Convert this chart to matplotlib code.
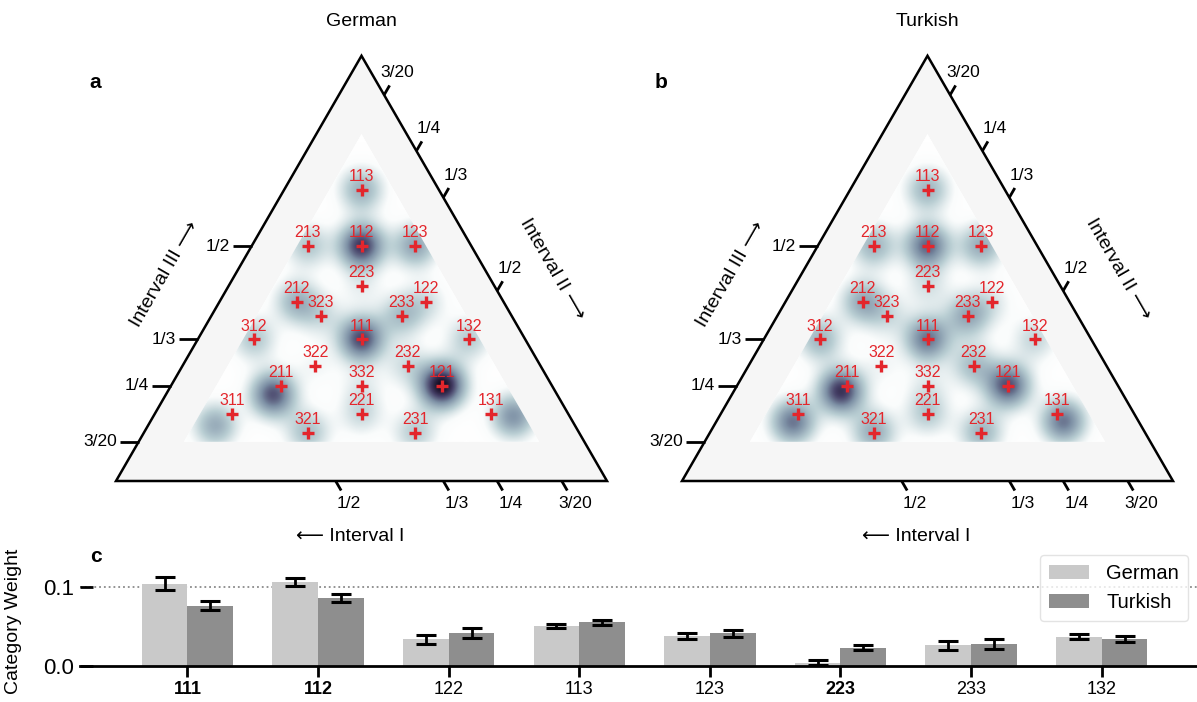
import numpy as np
import matplotlib.pyplot as plt
from matplotlib.colors import LinearSegmentedColormap
from matplotlib.patches import Polygon

plt.rcParams['font.family'] = ['Liberation Sans', 'DejaVu Sans']

# --- data ---
categories = ['113', '213', '112', '123', '223', '212', '323', '233', '122', '312', '111',
              '132', '322', '232', '211', '332', '121', '311', '221', '321', '231', '131']

# density peak strength per category (0..1, read from the shading)
density_de = [0.40, 0.30, 0.80, 0.45, 0.12, 0.38, 0.18, 0.32, 0.18, 0.30, 0.75,
              0.28, 0.10, 0.20, 0.72, 0.12, 0.98, 0.42, 0.22, 0.33, 0.28, 0.52]
density_tr = [0.38, 0.38, 0.66, 0.42, 0.18, 0.42, 0.18, 0.42, 0.14, 0.38, 0.62,
              0.24, 0.10, 0.33, 0.82, 0.12, 0.72, 0.62, 0.28, 0.42, 0.38, 0.62]

# where a density peak sits off its integer ratio (shift in interval proportions)
peak_shift_de = {'211': (0.020, -0.004, -0.016), '311': (0.037, -0.016, -0.021),
                 '131': (-0.033, 0.038, -0.005)}
peak_shift_tr = {'211': (0.014, -0.004, -0.010), '311': (0.016, -0.001, -0.015),
                 '131': (-0.004, 0.018, -0.014)}

tick_values = [3 / 20, 1 / 4, 1 / 3, 1 / 2]
tick_labels = ['3/20', '1/4', '1/3', '1/2']

bar_categories = ['111', '112', '122', '113', '123', '223', '233', '132']
bold_categories = ['111', '112', '223']
weight_de = [0.104, 0.106, 0.034, 0.050, 0.038, 0.004, 0.026, 0.037]
err_de = [0.0080, 0.0047, 0.0057, 0.0025, 0.0042, 0.0030, 0.0057, 0.0030]
weight_tr = [0.076, 0.086, 0.041, 0.055, 0.041, 0.023, 0.028, 0.034]
err_tr = [0.0057, 0.0047, 0.0063, 0.0030, 0.0038, 0.0034, 0.0063, 0.0036]

# --- ternary geometry ---
M = 0.08          # smallest proportion shown at a corner
INNER = 0.15      # proportions below this are not shaded
H = np.sqrt(3) / 2
SIDE_PX = 491.0
RED = '#e3262c'

cmap = LinearSegmentedColormap.from_list(
    'dens', [(0.0, '#ffffff'), (0.08, '#fafcfc'), (0.28, '#b9ced3'),
             (0.55, '#7d90a5'), (0.78, '#453f66'), (1.0, '#12091e')])


def to_xy(r):
    r = np.asarray(r, float)
    r = r / r.sum(axis=-1, keepdims=True)
    a = (r - M) / (1 - 3 * M)
    return a[..., 1] + 0.5 * a[..., 2], H * a[..., 2]


def cat_ratio(c):
    return [int(ch) for ch in c]


def make_tri_axes(fig, bl_x, bl_y=481):
    W, Hf = fig.get_size_inches() * fig.dpi
    x0, x1 = bl_x - 110, bl_x + SIDE_PX + 80
    y0, y1 = 0, 560
    ax = fig.add_axes([x0 / W, 1 - y1 / Hf, (x1 - x0) / W, (y1 - y0) / Hf])
    ax.set_xlim((x0 - bl_x) / SIDE_PX, (x1 - bl_x) / SIDE_PX)
    ax.set_ylim((bl_y - y1) / SIDE_PX, (bl_y - y0) / SIDE_PX)
    ax.axis('off')
    return ax


def draw_ternary(ax, density, shifts, title, letter):
    outer = Polygon([(0, 0), (1, 0), (0.5, H)], closed=True, fc='#f6f6f6', ec='none', zorder=0)
    ax.add_patch(outer)
    inner_r = [(1 - 2 * INNER, INNER, INNER), (INNER, 1 - 2 * INNER, INNER), (INNER, INNER, 1 - 2 * INNER)]
    ix, iy = to_xy(inner_r)
    inner = Polygon(np.column_stack([ix, iy]), closed=True, fc='white', ec='none', zorder=1)
    ax.add_patch(inner)

    gx = np.linspace(0, 1, 520)
    gy = np.linspace(0, H, 450)
    X, Y = np.meshgrid(gx, gy)
    Z = np.zeros_like(X)
    sig = 0.032
    for c, amp in zip(categories, density):
        r = np.array(cat_ratio(c), float)
        r = r / r.sum() + np.array(shifts.get(c, (0, 0, 0)))
        px, py = to_xy(r)
        Z += amp * np.exp(-((X - px) ** 2 + (Y - py) ** 2) / (2 * sig ** 2))
    im = ax.imshow(Z, extent=[0, 1, 0, H], origin='lower', cmap=cmap, vmin=0, vmax=1.0,
                   interpolation='bilinear', zorder=2)
    im.set_clip_path(inner)

    ax.add_patch(Polygon([(0, 0), (1, 0), (0.5, H)], closed=True, fill=False, ec='black',
                         lw=1.8, joinstyle='miter', zorder=5))

    L1 = 19 / SIDE_PX
    L2 = 11 / SIDE_PX
    for v, lab in zip(tick_values, tick_labels):
        f = (v - M) / (1 - 3 * M)
        # left edge: interval III
        ex, ey = 0.5 * f, H * f
        ax.plot([ex, ex - L1], [ey, ey], color='black', lw=2, solid_capstyle='butt', zorder=5)
        ax.text(ex - L1 - 0.006, ey, lab, ha='right', va='center', fontsize=12.5)
        # bottom edge: interval I
        ex, ey = 1 - f, 0
        ax.plot([ex, ex + 0.5 * L2], [ey, ey - H * L2], color='black', lw=2,
                solid_capstyle='butt', zorder=5)
        ax.text(ex + 0.054 * 0.5, ey - 0.054 * H, lab, ha='center', va='center', fontsize=12.5)
        # right edge: interval II
        ex, ey = 0.5 + 0.5 * f, H * (1 - f)
        ax.plot([ex, ex + 0.5 * L2], [ey, ey + H * L2], color='black', lw=2,
                solid_capstyle='butt', zorder=5)
        ax.text(ex + 0.052 * 0.5, ey + 0.052 * H, lab, ha='center', va='center', fontsize=12.5)

    ax.text(0.0998, 0.4216, 'Interval III \u27f6', rotation=60, rotation_mode='anchor',
            ha='center', va='center', fontsize=14)
    ax.text(0.888, 0.432, 'Interval II \u27f6', rotation=-60, rotation_mode='anchor',
            ha='center', va='center', fontsize=14)
    ax.text(0.4766, -0.114, '\u27f5 Interval I', ha='center', va='center', fontsize=14)

    cx, cy = to_xy([cat_ratio(c) for c in categories])
    ax.plot(cx, cy, '+', color=RED, ms=8.5, mew=2.4, zorder=6)
    for c, x, y in zip(categories, cx, cy):
        ax.annotate(c, (x, y), xytext=(0, 9.5), textcoords='offset points', ha='center',
                    va='center', color=RED, fontsize=11.5, zorder=7)

    ax.text(0.5, 0.935, title, ha='center', va='center', fontsize=14)
    ax.text(-0.043, 0.8126, letter, ha='center', va='center', fontsize=15, fontweight='bold')


fig = plt.figure(figsize=(11.97, 7.02), dpi=100)
W, Hf = 1197, 702

ax_a = make_tri_axes(fig, 116)
draw_ternary(ax_a, density_de, peak_shift_de, 'German', 'a')
ax_b = make_tri_axes(fig, 682)
draw_ternary(ax_b, density_tr, peak_shift_tr, 'Turkish', 'b')

# --- bar chart ---
ax_c = fig.add_axes([80 / W, 1 - 666 / Hf, 1117 / W, 106 / Hf])
x = np.arange(len(bar_categories))
bw = 0.35
ax_c.axhline(0.1, color='#8a8a8a', ls=':', lw=1.3, zorder=0)
ax_c.bar(x - bw / 2, weight_de, bw, color='#c9c9c9', label='German', zorder=2)
ax_c.bar(x + bw / 2, weight_tr, bw, color='#8e8e8e', label='Turkish', zorder=2)
ax_c.errorbar(x - bw / 2, weight_de, yerr=err_de, fmt='none', ecolor='black',
              elinewidth=2, capsize=7.5, capthick=2.2, zorder=3)
ax_c.errorbar(x + bw / 2, weight_tr, yerr=err_tr, fmt='none', ecolor='black',
              elinewidth=2, capsize=7.5, capthick=2.2, zorder=3)
ax_c.set_xlim(-0.823, 7.73)
ax_c.set_ylim(0, 0.1337)
for s in ['left', 'top', 'right']:
    ax_c.spines[s].set_visible(False)
ax_c.spines['bottom'].set_linewidth(2)
ax_c.set_yticks([0, 0.1])
ax_c.set_yticklabels(['0.0', '0.1'])
ax_c.tick_params(axis='y', direction='in', length=9.5, width=2, labelsize=16, pad=4)
ax_c.set_xticks(x)
ax_c.set_xticklabels(bar_categories)
ax_c.tick_params(axis='x', direction='out', length=8, width=2, labelsize=13, pad=3)
for lab in ax_c.get_xticklabels():
    if lab.get_text() in bold_categories:
        lab.set_fontweight('bold')
ax_c.set_ylabel('Category Weight', fontsize=14)
ax_c.yaxis.set_label_coords(-0.052, 0.42)
ax_c.legend(loc='upper right', bbox_to_anchor=(1188 / W, 1 - 555 / Hf),
            bbox_transform=fig.transFigure, fontsize=14.5, handlelength=2.0,
            handleheight=0.7, handletextpad=0.85, labelspacing=0.5, borderpad=0.45,
            borderaxespad=0, edgecolor='#dddddd')
fig.text(96 / W, 1 - 557 / Hf, 'c', ha='center', va='center', fontsize=15, fontweight='bold')

fig.savefig('out.png', dpi=100)
